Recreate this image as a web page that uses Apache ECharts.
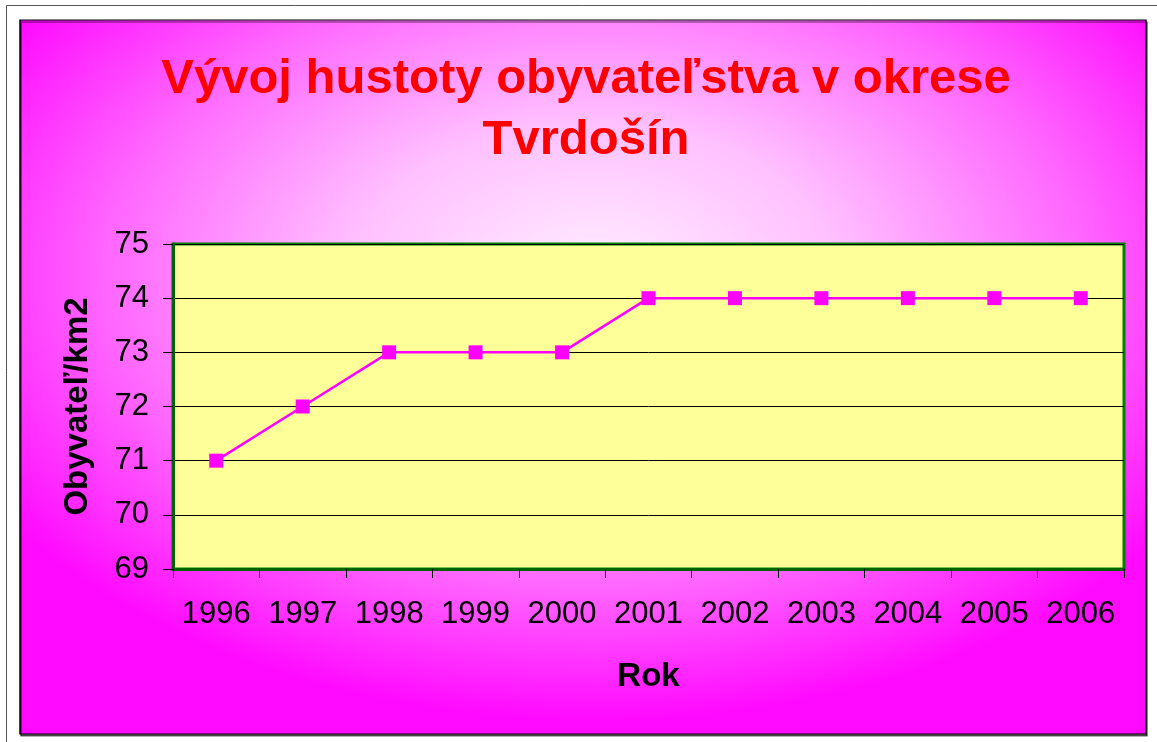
<!DOCTYPE html>
<html>
<head>
<meta charset="utf-8">
<script src="https://cdn.jsdelivr.net/npm/echarts@6/dist/echarts.min.js"></script>
<style>html,body{margin:0;padding:0;background:#fff;}#c{width:1157px;height:742px;}</style>
</head>
<body>
<div id="c"></div>
<script>
const titleText = 'Vývoj hustoty obyvateľstva v okrese\nTvrdošín';
const years = ['1996','1997','1998','1999','2000','2001','2002','2003','2004','2005','2006'];
const density = [71, 72, 73, 73, 73, 74, 74, 74, 74, 74, 74];
const yAxisName = 'Obyvateľ/km2';
const xAxisName = 'Rok';

const chart = echarts.init(document.getElementById('c'), null, {renderer: 'canvas'});
const FONT = '"Liberation Sans", Arial, sans-serif';
const bgW = 1126, bgH = 714;
chart.setOption({
  backgroundColor: '#ffffff',
  animation: false,
  graphic: [
    { type: 'rect', z: -10, left: 6, top: 5, shape: {x: 0, y: 0, width: 1160, height: 760},
      style: {fill: '#ffffff', stroke: '#555555', lineWidth: 1}, silent: true },
    { type: 'rect', z: -9, x: 20, y: 20, scaleY: bgH / bgW,
      shape: {x: 0, y: 0, width: bgW, height: bgW},
      style: {
        fill: {type: 'radial', x: 0.51, y: 0.36, r: 0.62,
          colorStops: [
            {offset: 0, color: '#FFEEFF'},
            {offset: 0.35, color: '#FFC0FF'},
            {offset: 0.7, color: '#FF66FF'},
            {offset: 1, color: '#FF0AFF'}
          ]},
        stroke: '#000000', lineWidth: 1.5,
        shadowColor: 'rgba(0,0,0,0.6)', shadowOffsetX: 1, shadowOffsetY: 2, shadowBlur: 0
      }, silent: true }
  ],
  title: {
    text: titleText,
    left: 586,
    textAlign: 'center',
    top: 49,
    padding: 0,
    textStyle: {color: '#FF0000', fontFamily: FONT, fontWeight: 'bold', fontSize: 49, lineHeight: 61}
  },
  grid: {
    left: 173, top: 244, right: 33, bottom: 173,
    show: true, backgroundColor: '#FFFF99', borderColor: '#008000', borderWidth: 3
  },
  xAxis: {
    type: 'category',
    data: years,
    boundaryGap: true,
    name: xAxisName,
    nameLocation: 'middle',
    nameGap: 91,
    nameTextStyle: {fontFamily: FONT, fontWeight: 'bold', fontSize: 33, color: '#000'},
    axisLine: {show: true, lineStyle: {color: '#006400', width: 3}},
    axisTick: {show: true, length: 9, lineStyle: {color: '#000', width: 1}},
    axisLabel: {fontFamily: FONT, fontSize: 31, color: '#000', margin: 30, interval: 0},
    splitLine: {show: false}
  },
  yAxis: {
    type: 'value',
    min: 69, max: 75, interval: 1,
    name: yAxisName,
    nameLocation: 'middle',
    nameGap: 79,
    nameRotate: 90,
    nameTextStyle: {fontFamily: FONT, fontWeight: 'bold', fontSize: 33, color: '#000'},
    axisLine: {show: true, lineStyle: {color: '#006400', width: 3}},
    axisTick: {show: true, length: 10, lineStyle: {color: '#000', width: 1}},
    axisLabel: {fontFamily: FONT, fontSize: 31, color: '#000', margin: 24},
    splitLine: {show: true, lineStyle: {color: '#000', width: 1}}
  },
  series: [{
    type: 'line',
    data: density,
    symbol: 'rect',
    symbolSize: 14,
    itemStyle: {color: '#FF00FF'},
    lineStyle: {color: '#FF00FF', width: 2.5}
  }]
});
</script>
</body>
</html>
